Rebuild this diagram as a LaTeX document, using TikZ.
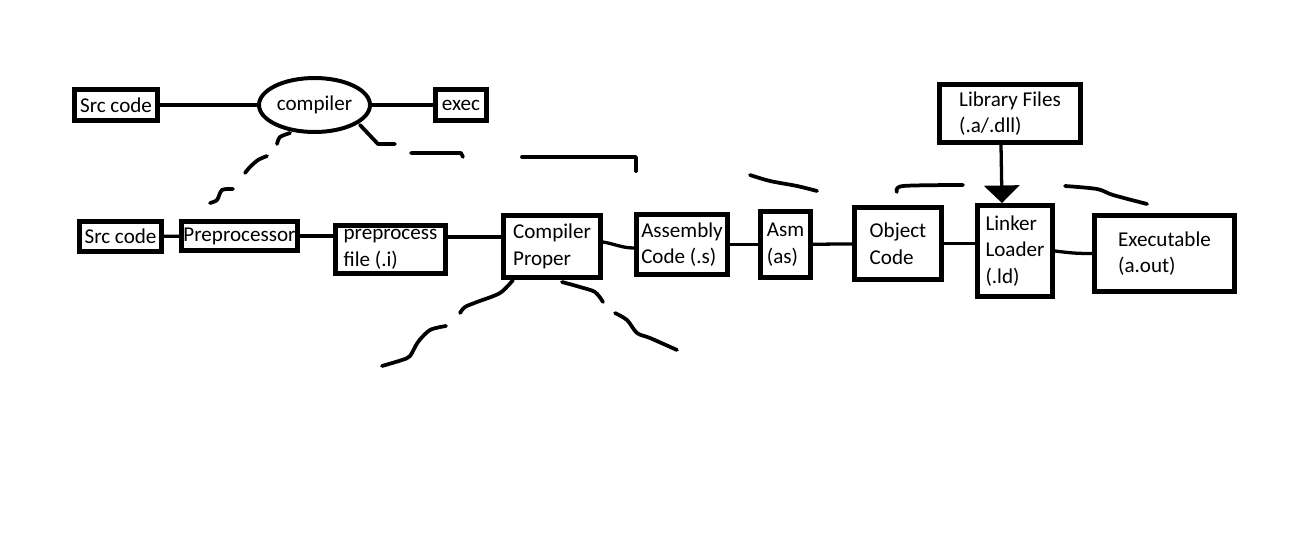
\documentclass[tikz,border=0pt]{standalone}
\usepackage{fontspec}
\setmainfont{Carlito}
\usetikzlibrary{shapes.geometric,arrows.meta}

\begin{document}
\begin{tikzpicture}[x=0.03cm, y=-0.03cm]
    % Styles for boxes and lines
    \tikzstyle{box} = [rectangle, draw=black, line width=4.2pt, align=left, inner sep=0pt, font=\fontsize{18}{22.7}\selectfont]
    \tikzstyle{oval} = [ellipse, draw=black, line width=3.4pt, inner sep=0pt, font=\fontsize{18}{22.7}\selectfont]
    \tikzstyle{link} = [line width=2.8pt]
    \tikzstyle{scribble} = [line width=3.2pt, line cap=round, line join=round]

    \useasboundingbox (0,0) rectangle (1290,558);

  % Top row, nodes with explicit coordinates
    \node[box, minimum width=2.49cm, minimum height=0.93cm] (srctop) at (116,105) {Src code};
    \node[oval, minimum width=3.33cm, minimum height=1.62cm] (compiler) at (314.5,105) {compiler};
    \node[box, minimum width=1.53cm, minimum height=0.93cm] (exectop) at (461,105) {exec};

  % Pipeline row
    \node[box, minimum width=2.46cm, minimum height=0.9cm] (src) at (120.5,236.5) {Src code};
    \node[box, minimum width=3.48cm, minimum height=0.87cm] (prep) at (239.5,236) {Preprocessor};
    \node[box, minimum width=3.3cm, minimum height=1.44cm] (pfile) at (390.5,249.5) {preprocess\\file (.i)};
    \node[box, minimum width=2.91cm, minimum height=1.86cm] (cproper) at (552,246.5) {Compiler\\Proper};
    \node[box, minimum width=2.73cm, minimum height=1.8cm] (asmcode) at (682,244.5) {Assembly\\Code (.s)};
    \node[box, minimum width=1.5cm, minimum height=1.98cm] (asm) at (785.5,244.5) {Asm\\(as)};
    \node[box, minimum width=2.61cm, minimum height=2.16cm] (obj) at (898,243.5) {Object\\Code};
    \node[box, minimum width=2.25cm, minimum height=2.73cm] (linker) at (1015,251) {Linker\\Loader\\(.ld)};
    \node[box, minimum width=4.2cm, minimum height=2.28cm] (exe) at (1164.5,253.5) {Executable\\(a.out)};
    \node[box, minimum width=4.23cm, minimum height=1.74cm] (lib) at (1010,113.5) {Library Files\\(.a/.dll)};

  % Lines between boxes
    \draw[link] (srctop) -- (compiler);
    \draw[link] (compiler) -- (exectop);
    \draw[link] (src) -- (prep);
    \draw[link] (prep) -- (prep -| pfile.west);
    \draw[link] ([yshift=0.375cm]pfile.east) -- ([yshift=0.285cm]cproper.west);
    \draw[link] ([yshift=0.135cm]cproper.east) .. controls +(12,2) and +(-12,0) .. ([yshift=-0.105cm]asmcode.west);
    \draw[link] (asmcode) -- (asm);
    \draw[link] (asm) -- (obj);
    \draw[link] (obj) -- (obj -| linker.west);
    \draw[link] (linker.east) .. controls +(16,2) and +(-16,0) .. (exe.west);
    \draw[link, -{Triangle[width=30pt, length=15pt]}] ([xshift=-0.27cm]lib.south) -- ([xshift=-0.39cm]linker.north);

  % Dashed hand-drawn curves
    \draw[scribble] plot[smooth] coordinates {(290,133) (280,137) (277,144)};
    \draw[scribble] plot[smooth] coordinates {(267,156) (258,160) (250,167) (245,173)};
    \draw[scribble] plot[smooth] coordinates {(233,189) (222,190) (217,200) (210,203)};
    \draw[scribble] (360,125) -- (378,144) -- (395,144);
    \draw[scribble] (411,153) -- (461,153) -- (463,157);
    \draw[scribble] (522,157) -- (636,157) -- (636,171);
    \draw[scribble] plot[smooth] coordinates {(750,175) (770,181) (797,186) (817,191)};
    \draw[scribble] plot[smooth] coordinates {(897,192) (903,186) (963,185)};
    \draw[scribble] plot[smooth] coordinates {(1065,186) (1097,189) (1113,195) (1147,204)};
    \draw[scribble] plot[smooth] coordinates {(513,280) (500,293) (477,302) (465,307) (460,313)};
    \draw[scribble] plot[smooth] coordinates {(446,326) (430,330) (418,342) (410,356) (402,360) (382,366)};
    \draw[scribble] plot[smooth] coordinates {(562,282) (580,287) (595,292) (603,302)};
    \draw[scribble] plot[smooth] coordinates {(615,313) (627,320) (637,333) (650,338) (677,350)};

\end{tikzpicture}
\end{document}
